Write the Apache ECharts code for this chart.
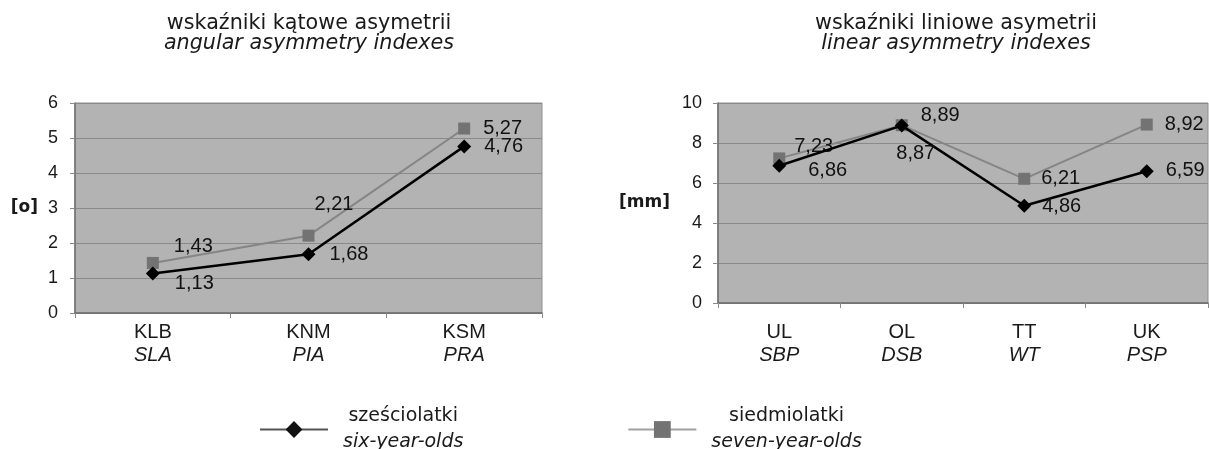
<!DOCTYPE html>
<html>
<head>
<meta charset="utf-8">
<script src="https://cdn.jsdelivr.net/npm/echarts@6/dist/echarts.min.js"></script>
<style>
  html, body { margin: 0; padding: 0; background: #ffffff; }
  #chart { width: 1209px; height: 449px; }
</style>
</head>
<body>
<div id="chart"></div>
<script>
// Angular asymmetry indexes
const angularCategories = ['KLB', 'KNM', 'KSM'];
const angularCategoriesEn = ['SLA', 'PIA', 'PRA'];
const angularSix = [1.13, 1.68, 4.76];
const angularSeven = [1.43, 2.21, 5.27];

// Linear asymmetry indexes
const linearCategories = ['UL', 'OL', 'TT', 'UK'];
const linearCategoriesEn = ['SBP', 'DSB', 'WT', 'PSP'];
const linearSix = [6.86, 8.87, 4.86, 6.59];
const linearSeven = [7.23, 8.89, 6.21, 8.92];

// Series names
const nameSix = 'sześciolatki';
const nameSixEn = 'six-year-olds';
const nameSeven = 'siedmiolatki';
const nameSevenEn = 'seven-year-olds';

// Value label placement for each point: [position, dx, dy]
const angularSixLabels = [['right', 10, 10], ['right', 9, 0], ['right', 8, 0]];
const angularSevenLabels = [['right', 10, -16], ['right', -5, -31], ['right', 8, 0]];
const linearSixLabels = [['right', 17, 5], ['bottom', 14, 6], ['right', 6, 1], ['right', 7, -1]];
const linearSevenLabels = [['right', 4, -12], ['right', 8, -10], ['right', 6, 0], ['right', 7, 0]];

const SANS = 'Liberation Sans, Arial, sans-serif';
const WIDE = 'DejaVu Sans, sans-serif';

function fmt(v) { return v.toFixed(2).replace('.', ','); }

function points(values, labels) {
  return values.map((v, i) => ({
    value: v,
    label: { position: labels[i][0], offset: [labels[i][1], labels[i][2]] }
  }));
}

function catAxis(gridIndex, cats, catsEn, margin) {
  return {
    type: 'category',
    gridIndex: gridIndex,
    data: cats,
    boundaryGap: true,
    axisLine: { lineStyle: { color: '#6e6e6e', width: 1.5 } },
    axisTick: { show: true, length: 5, inside: false, lineStyle: { color: '#8a8a8a' } },
    axisLabel: {
      margin: margin,
      interval: 0,
      formatter: (value, idx) => '{a|' + value + '}\n{b|' + catsEn[idx] + '}',
      rich: {
        a: { fontFamily: SANS, fontSize: 20, color: '#1a1a1a', lineHeight: 23, align: 'center' },
        b: { fontFamily: SANS, fontSize: 20, fontStyle: 'italic', color: '#1a1a1a', lineHeight: 23, align: 'center' }
      }
    },
    splitLine: { show: false }
  };
}

function valAxis(gridIndex, max, interval, name, nameGap, margin) {
  return {
    type: 'value',
    gridIndex: gridIndex,
    min: 0,
    max: max,
    interval: interval,
    name: name,
    nameLocation: 'middle',
    nameRotate: 0,
    nameGap: nameGap,
    nameTextStyle: { fontFamily: WIDE, fontWeight: 'bold', fontSize: 17, color: '#1a1a1a' },
    axisLine: { show: true, lineStyle: { color: '#6e6e6e', width: 1.5 } },
    axisTick: { show: true, length: 5, lineStyle: { color: '#8a8a8a' } },
    axisLabel: { margin: margin, fontFamily: SANS, fontSize: 18, color: '#1a1a1a' },
    splitLine: { show: true, lineStyle: { color: '#8a8a8a', width: 1 } }
  };
}

const labelStyle = {
  show: true,
  distance: 5,
  fontFamily: SANS,
  fontSize: 20,
  color: '#111111',
  formatter: p => fmt(p.value)
};

function sixSeries(xi, yi, data) {
  return {
    type: 'line', name: nameSix, xAxisIndex: xi, yAxisIndex: yi,
    data: data, symbol: 'diamond', symbolSize: 14,
    lineStyle: { color: '#000000', width: 2.5 },
    itemStyle: { color: '#000000' },
    label: labelStyle, z: 3, animation: false
  };
}
function sevenSeries(xi, yi, data) {
  return {
    type: 'line', name: nameSeven, xAxisIndex: xi, yAxisIndex: yi,
    data: data, symbol: 'rect', symbolSize: 12,
    lineStyle: { color: '#858585', width: 2 },
    itemStyle: { color: '#737373' },
    label: labelStyle, z: 2, animation: false
  };
}

function titleBlock(x, main, sub) {
  return {
    left: x, top: 9, textAlign: 'center',
    text: '{a|' + main + '}\n{b|' + sub + '}',
    textStyle: {
      fontWeight: 'normal',
      rich: {
        a: { fontFamily: WIDE, fontSize: 20.7, fontWeight: 'normal', color: '#1a1a1a', lineHeight: 20, align: 'center' },
        b: { fontFamily: WIDE, fontSize: 20.7, fontWeight: 'normal', fontStyle: 'italic', color: '#1a1a1a', lineHeight: 20, align: 'center' }
      }
    }
  };
}

const chart = echarts.init(document.getElementById('chart'), null, { renderer: 'canvas' });

chart.setOption({
  animation: false,
  backgroundColor: '#ffffff',
  title: [
    titleBlock(304, 'wskaźniki kątowe asymetrii', 'angular asymmetry indexes'),
    titleBlock(951, 'wskaźniki liniowe asymetrii', 'linear asymmetry indexes')
  ],
  legend: {
    left: 259, top: 407, padding: 0,
    itemWidth: 68, itemHeight: 21, itemGap: 164,
    selectedMode: false,
    data: [
      { name: nameSix, lineStyle: { color: '#555555', width: 2 }, itemStyle: { color: '#111111' } },
      { name: nameSeven, lineStyle: { color: '#a0a0a0', width: 2 }, itemStyle: { color: '#737373' } }
    ],
    formatter: n => '{a|' + n + '}\n{b|' + (n === nameSix ? nameSixEn : nameSevenEn) + '}',
    textStyle: {
      padding: [0, 0, 0, 10],
      rich: {
        a: { fontFamily: WIDE, fontSize: 19, color: '#1a1a1a', lineHeight: 26, align: 'center' },
        b: { fontFamily: WIDE, fontSize: 19, fontStyle: 'italic', color: '#1a1a1a', lineHeight: 26, align: 'center' }
      }
    }
  },
  grid: [
    { left: 75, top: 103, width: 467, height: 210, show: true, backgroundColor: '#b3b3b3', borderColor: '#8f8f8f', borderWidth: 1 },
    { left: 718, top: 103, width: 490, height: 200, show: true, backgroundColor: '#b3b3b3', borderColor: '#8f8f8f', borderWidth: 1 }
  ],
  xAxis: [
    catAxis(0, angularCategories, angularCategoriesEn, 8),
    catAxis(1, linearCategories, linearCategoriesEn, 18)
  ],
  yAxis: [
    valAxis(0, 6, 1, '[o]', 37, 17),
    valAxis(1, 10, 2, '[mm]', 48, 16)
  ],
  series: [
    sevenSeries(0, 0, points(angularSeven, angularSevenLabels)),
    sixSeries(0, 0, points(angularSix, angularSixLabels)),
    sevenSeries(1, 1, points(linearSeven, linearSevenLabels)),
    sixSeries(1, 1, points(linearSix, linearSixLabels))
  ]
});
</script>
</body>
</html>
